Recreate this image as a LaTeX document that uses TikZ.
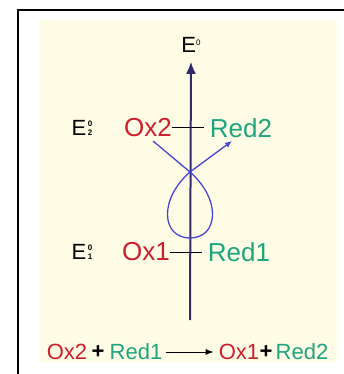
\documentclass[tikz,border=0pt]{standalone}
\usepackage{fontspec}
\setmainfont{Liberation Sans}
\usetikzlibrary{arrows.meta}

\definecolor{oxred}{RGB}{205,30,45}
\definecolor{redgreen}{RGB}{30,165,125}
\definecolor{axisblue}{RGB}{50,40,110}
\definecolor{loopblue}{RGB}{70,70,215}
\definecolor{paper}{RGB}{255,252,230}

% E with stacked 0 over the level number
\newcommand{\epot}[1]{E\kern1.5pt\raisebox{0pt}{\fontsize{8}{9.3}\bfseries\selectfont\shortstack{0\\#1}}}

\begin{document}
\begin{tikzpicture}[x=1pt,y=-1pt,
  lab/.style={inner sep=0pt,font=\fontsize{22}{26}\selectfont},
  ox/.style={inner sep=0pt,text=oxred,font=\fontsize{26}{30}\selectfont},
  rd/.style={inner sep=0pt,text=redgreen,font=\fontsize{26}{30}\selectfont},
  eqox/.style={inner sep=0pt,text=oxred,font=\fontsize{22}{26}\selectfont},
  eqrd/.style={inner sep=0pt,text=redgreen,font=\fontsize{22}{26}\selectfont},
  tick/.style={line width=1pt,shorten >=6pt}]
\useasboundingbox (0,0) rectangle (343,374);
\fill[white] (0,0) rectangle (343,374);
\fill[paper] (40,20) rectangle (337,362);
\draw[line width=1.5pt] (18,10) rectangle (360,390);

\node[lab] (e0) at (191,45) {E\raisebox{7pt}{\fontsize{8}{8}\selectfont 0}};
\node[lab] (e2) at (82,128) {\epot{2}};
\node[lab] (e1) at (82,252) {\epot{1}};
\node[ox] (ox2) at (148,128) {Ox2};
\node[rd] (red2) at (241,128) {Red2};
\node[ox] (ox1) at (146,252) {Ox1};
\node[rd] (red1) at (239,252) {Red1};
\coordinate (axbot) at (190,320);

\draw[axisblue,line width=2pt,-{Latex[length=12pt,width=10pt]},shorten >=9pt] (axbot) -- (e0.south);
\draw[tick] (ox2.east) -- (red2.west);
\draw[tick] (ox1.east) -- (red1.west);

\coordinate (lstart) at (153,141);
\coordinate (cross) at (190,172);
\coordinate (lbot) at (190,238);
\coordinate (lend) at (232,141);
\draw[loopblue,line width=1.3pt,-{Latex[length=7pt,width=6pt]}] (lstart) -- (cross)
  .. controls (222,200) and (218,238) .. (lbot)
  .. controls (162,238) and (158,200) .. (cross) -- (lend);

\node[eqox] (qox2) at (67,352) {Ox2};
\node[lab] (qp1) at (98,352) {\textbf{+}};
\node[eqrd] (qred1) at (136,352) {Red1};
\node[eqox] (qox1) at (239,352) {Ox1};
\node[lab] (qp2) at (266,352) {\textbf{+}};
\node[eqrd] (qred2) at (302,352) {Red2};
\draw[line width=1pt,-{Latex[length=8pt,width=6pt]},shorten <=3pt,shorten >=5pt] (qred1.east) -- (qox1.west);
\end{tikzpicture}
\end{document}
